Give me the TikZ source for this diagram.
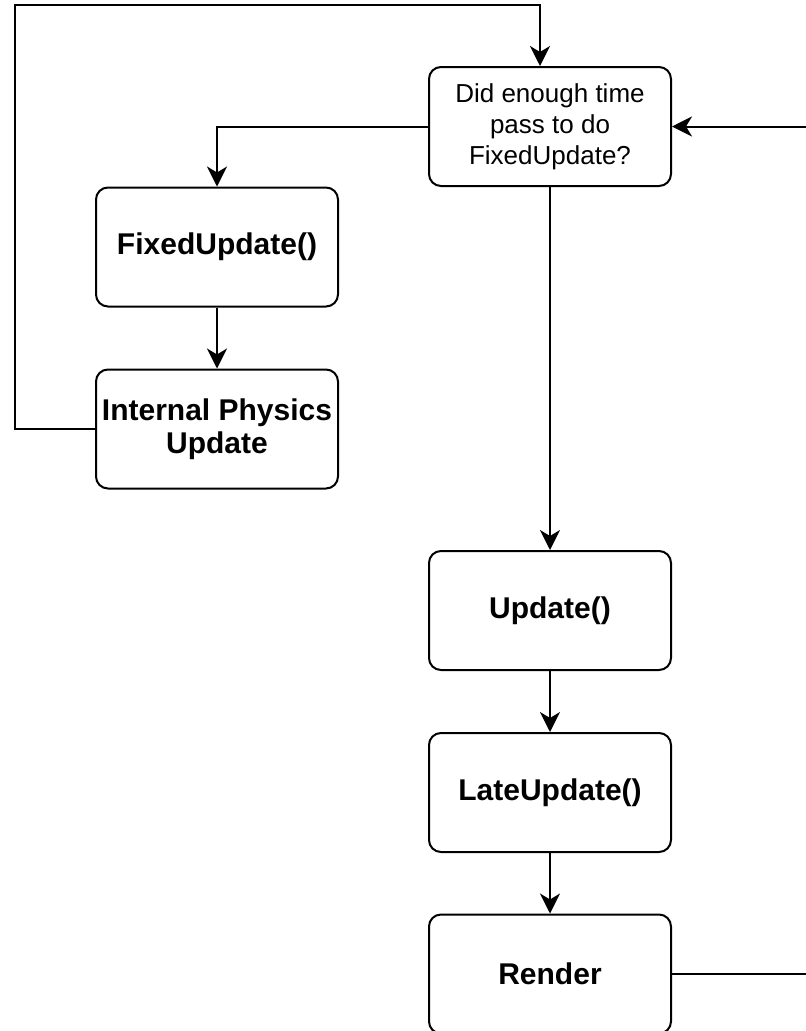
\documentclass[tikz,border=0pt]{standalone}
\usepackage{fontspec}
\setmainfont{Liberation Sans}
\usepackage{tikz}
\usetikzlibrary{positioning, arrows.meta, calc}

\begin{document}
\begin{tikzpicture}[
  x=1pt, y=-1pt,
  >={Stealth[length=20pt, width=20pt, inset=6pt]},
  link/.style={line width=2pt},
  stepbox/.style={draw, line width=2pt, rounded corners=12pt, minimum width=242pt, minimum height=119pt,
    align=center, inner sep=2pt, font=\fontsize{30}{33}\selectfont\bfseries},
  askbox/.style={stepbox, font=\fontsize{26}{31}\selectfont}
]
\useasboundingbox (0,0) rectangle (806,1031);

% Loop nodes
\node[askbox] (decide) at (550,126.5) {Did enough time\\pass to do\\FixedUpdate?};
\node[stepbox] (fixed) at (217,247) {FixedUpdate()};
\node[stepbox] (physics) at (217,429) {Internal Physics\\Update};
\node[stepbox] (update) at (550,610.5) {Update()};
\node[stepbox] (late) at (550,792.5) {LateUpdate()};
\node[stepbox] (render) at (550,974) {Render};

% Turning points
\coordinate (leftdrop) at (217,126.5);
\coordinate (backlow) at (15,429);
\coordinate (backtop) at (15,5);
\coordinate (backend) at (540,5);
\coordinate (rightout) at (806,974);
\coordinate (rightin) at (806,126.5);

% Fixed step branch
\draw[link, ->] (decide.west) -- (leftdrop) -- (fixed.north);
\draw[link, ->] (fixed) -- (physics);
\draw[link, ->] (physics.west) -- (backlow) -- (backtop) -- (backend) -- ([xshift=-10pt]decide.north);

% Frame branch
\draw[link, ->] (decide) -- (update);
\draw[link, ->] (update) -- (late);
\draw[link, ->] (late) -- (render);
\draw[link] (render.east) -- (rightout);
\draw[link, ->] (rightin) -- (decide.east);

\end{tikzpicture}
\end{document}
